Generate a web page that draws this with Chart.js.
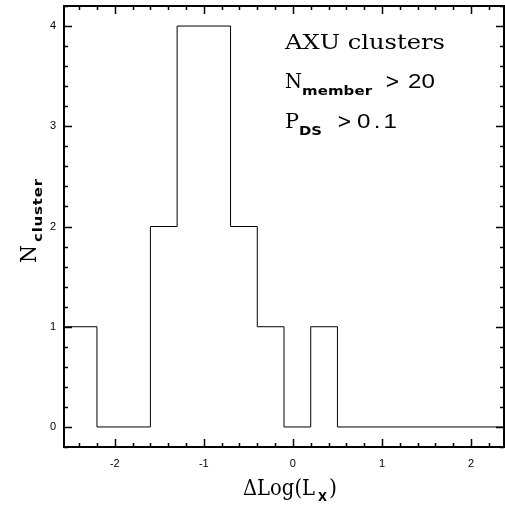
<!DOCTYPE html>
<html>
<head>
<meta charset="utf-8">
<script src="https://cdn.jsdelivr.net/npm/chart.js@4.4.1/dist/chart.umd.min.js"></script>
<style>
  html, body { margin: 0; padding: 0; background: #fff; }
  #wrap { width: 505px; height: 505px; }
</style>
</head>
<body>
<div id="wrap"><canvas id="hist" width="505" height="505"></canvas></div>
<script>
// histogram of Delta Log(Lx), bins of 0.3 (first/last bins run to the frame)
const binEdges = [-2.6, -2.2, -1.6, -1.3, -0.7, -0.4, -0.1, 0.2, 0.5, 2.6];
const binCounts = [1, 0, 2, 4, 2, 1, 0, 1, 0];
const xTicks = [-2, -1, 0, 1, 2];
const yTicks = [0, 1, 2, 3, 4];
const xRange = [-2.57, 2.37];
const yRange = [-0.2, 4.2];
const minorStep = 0.2;

const SERIF = '"DejaVu Serif", "Liberation Serif", serif';
const SANS = '"Liberation Sans", Arial, sans-serif';
const SUB = '"DejaVu Sans", "Liberation Sans", sans-serif';

const stepData = binEdges.map((e, i) => ({ x: e, y: binCounts[Math.min(i, binCounts.length - 1)] }));

// draw text widened to a given width (mimics the wide plotter font):
// stretch glyphs a little, spread letters for the rest
function fitText(ctx, text, font, x, y, width) {
  ctx.save();
  ctx.font = font;
  ctx.letterSpacing = '0px';
  const w = ctx.measureText(text).width;
  const s = Math.max(0.85, Math.min(width / w, 1.15));
  const n = text.length;
  const ls = n > 1 ? (width - w * s) / (n - 1) / s : 0;
  ctx.translate(x, y);
  ctx.scale(s, 1);
  ctx.letterSpacing = ls + 'px';
  ctx.fillText(text, 0, 0);
  ctx.restore();
}

const framePlugin = {
  id: 'frame',
  afterDraw(chart) {
    const { ctx, chartArea: a, scales } = chart;
    const xs = scales.x, ys = scales.y;
    ctx.save();
    ctx.strokeStyle = '#000';
    ctx.fillStyle = '#000';

    // ticks pointing inwards on all four sides
    ctx.lineWidth = 1.5;
    ctx.beginPath();
    for (let k = Math.ceil(xRange[0] / minorStep); k * minorStep <= xRange[1]; k++) {
      const v = k * minorStep;
      const px = Math.round(xs.getPixelForValue(v)) + 0.5;
      const len = Math.abs(v - Math.round(v)) < 1e-6 ? 8 : 4;
      ctx.moveTo(px, a.bottom); ctx.lineTo(px, a.bottom - len);
      ctx.moveTo(px, a.top); ctx.lineTo(px, a.top + len);
    }
    for (let k = Math.ceil(yRange[0] / minorStep); k * minorStep <= yRange[1] + 1e-9; k++) {
      const v = k * minorStep;
      const py = Math.round(ys.getPixelForValue(v)) + 0.5;
      const len = Math.abs(v - Math.round(v)) < 1e-6 ? 8 : 4;
      ctx.moveTo(a.left, py); ctx.lineTo(a.left + len, py);
      ctx.moveTo(a.right, py); ctx.lineTo(a.right - len, py);
    }
    ctx.stroke();

    ctx.lineWidth = 2;
    ctx.strokeRect(a.left, a.top, a.right - a.left, a.bottom - a.top);

    // annotation block, top right
    ctx.textBaseline = 'alphabetic';
    ctx.textAlign = 'left';
    fitText(ctx, 'AXU clusters', '21px ' + SERIF, 285, 49, 160);

    fitText(ctx, 'N', '21px ' + SERIF, 285, 88, 17);
    fitText(ctx, 'member', 'bold 13px ' + SUB, 302, 95, 70);
    fitText(ctx, '>', '21px ' + SERIF, 385, 88, 13);
    fitText(ctx, '20', '21px ' + SANS, 408, 88, 27);

    fitText(ctx, 'P', '21px ' + SERIF, 285, 128, 14);
    fitText(ctx, 'DS', 'bold 13px ' + SUB, 299, 135, 23);
    fitText(ctx, '>', '21px ' + SERIF, 337, 128, 13);
    fitText(ctx, '0.1', '21px ' + SANS, 357, 128, 40);

    // x axis title: ΔLog(L_X)
    fitText(ctx, '\u0394Log(L', '22px ' + SERIF, 243, 495, 72);
    fitText(ctx, 'X', 'bold 13px ' + SUB, 318, 501, 9);
    fitText(ctx, ')', '22px ' + SERIF, 329, 495, 8);

    // y axis title: N_cluster, rotated
    ctx.translate(36, 0);
    ctx.rotate(-Math.PI / 2);
    fitText(ctx, 'N', '22px ' + SERIF, -263, 0, 18);
    fitText(ctx, 'cluster', 'bold 13px ' + SUB, -242, 6, 63);
    ctx.restore();
  }
};

new Chart(document.getElementById('hist'), {
  type: 'line',
  data: {
    datasets: [{
      data: stepData,
      stepped: true,
      borderColor: '#000',
      borderWidth: 1,
      pointRadius: 0,
      fill: false
    }]
  },
  options: {
    responsive: false,
    animation: false,
    devicePixelRatio: 1,
    layout: { padding: { top: 6, right: 1, left: 0, bottom: 0 } },
    plugins: { legend: { display: false }, tooltip: { enabled: false } },
    scales: {
      x: {
        type: 'linear',
        min: xRange[0], max: xRange[1],
        grid: { display: false, drawTicks: false },
        border: { display: false },
        afterBuildTicks: s => { s.ticks = xTicks.map(v => ({ value: v })); },
        afterFit: s => { s.height = 58; s.paddingLeft = 0; s.paddingRight = 0; },
        ticks: { color: '#000', font: { family: SANS, size: 11 }, padding: 10, maxRotation: 0 }
      },
      y: {
        min: yRange[0], max: yRange[1],
        grid: { display: false, drawTicks: false },
        border: { display: false },
        afterBuildTicks: s => { s.ticks = yTicks.map(v => ({ value: v })); },
        afterFit: s => { s.width = 64; s.paddingTop = 0; s.paddingBottom = 0; },
        ticks: { color: '#000', font: { family: SANS, size: 11 }, padding: 8 }
      }
    }
  },
  plugins: [framePlugin]
});
</script>
</body>
</html>
